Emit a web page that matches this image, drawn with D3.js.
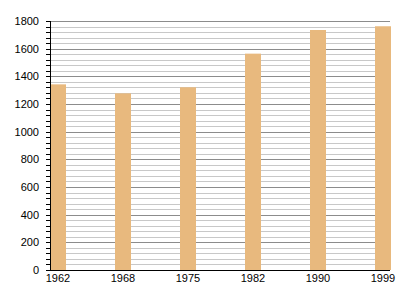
<html><head>
<meta charset="utf-8">
<script src="https://d3js.org/d3.v7.min.js"></script>
<style>
  body { margin: 0; background: #fff; }
  text { font-family: "Liberation Sans", Arial, sans-serif; font-size: 11px; fill: #000; }
</style>
</head>
<body>
<script>
var years = ["1962", "1968", "1975", "1982", "1990", "1999"];
var population = [1342, 1277, 1321, 1564, 1735, 1762];
var yMajorTicks = [0, 200, 400, 600, 800, 1000, 1200, 1400, 1600, 1800];

var plotLeft = 50, plotRight = 390, plotTop = 21, plotBottom = 270;
var step = 65, barW = 16;

var svg = d3.select("body").append("svg")
    .attr("width", 400).attr("height", 300);

var y = d3.scaleLinear().domain([0, 1800]).range([plotBottom, plotTop]);
var x = d3.scalePoint().domain(years).range([plotLeft, plotLeft + step * (years.length - 1)]);

function py(d) { return Math.round(y(d)) + 0.5; }

// minor grid every 40
var minor = d3.range(0, 1801, 40).filter(function (v) { return v % 200 != 0; });
svg.selectAll("line.minor").data(minor).enter().append("line")
    .attr("x1", plotLeft).attr("x2", plotRight)
    .attr("y1", py).attr("y2", py)
    .attr("stroke", "#c8c8c8").attr("stroke-width", 1);

svg.selectAll("line.major").data(yMajorTicks.slice(1)).enter().append("line")
    .attr("x1", plotLeft).attr("x2", plotRight)
    .attr("y1", py).attr("y2", py)
    .attr("stroke", "#8c8c8c").attr("stroke-width", 1);

// bars
svg.selectAll("rect.bar").data(population).enter().append("rect")
    .attr("x", function (d, i) { return x(years[i]); })
    .attr("y", function (d) { return y(d); })
    .attr("width", barW)
    .attr("height", function (d) { return plotBottom - y(d); })
    .attr("fill", "#e8b97e");

// y axis
var ticksAll = d3.range(0, 1801, 40);
svg.selectAll("line.ytick").data(ticksAll).enter().append("line")
    .attr("x1", plotLeft - 4).attr("x2", plotLeft)
    .attr("y1", py).attr("y2", py)
    .attr("stroke", "#000");
svg.append("line").attr("x1", plotLeft + 0.5).attr("x2", plotLeft + 0.5)
    .attr("y1", plotTop).attr("y2", plotBottom + 1).attr("stroke", "#000");
svg.selectAll("text.ylab").data(yMajorTicks).enter().append("text")
    .attr("x", plotLeft - 11)
    .attr("y", function (d) { return y(d) + 4; })
    .attr("text-anchor", "end")
    .text(function (d) { return d; });

// x axis
svg.append("line").attr("x1", plotLeft).attr("x2", plotRight)
    .attr("y1", plotBottom + 0.5).attr("y2", plotBottom + 0.5).attr("stroke", "#000");
svg.selectAll("text.xlab").data(years).enter().append("text")
    .attr("x", function (d) { return x(d) + barW / 2; })
    .attr("y", plotBottom + 12)
    .attr("text-anchor", "middle")
    .text(function (d) { return d; });
</script>
</body></html>
